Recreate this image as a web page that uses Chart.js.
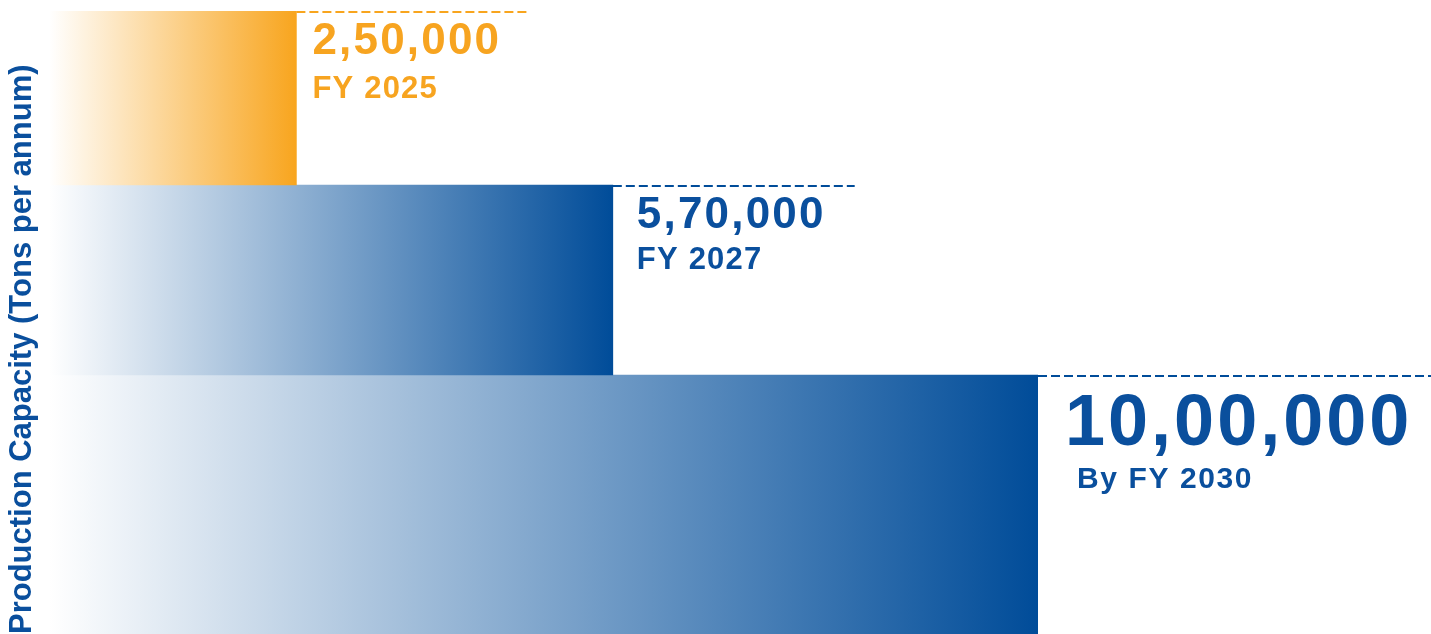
<!DOCTYPE html>
<html><head><meta charset="utf-8">
<script src="https://cdn.jsdelivr.net/npm/chart.js@4.4.1/dist/chart.umd.min.js"></script>
<style>html,body{margin:0;padding:0;background:#fff;overflow:hidden}#wrap{width:1431px;height:634px;position:relative}</style>
</head><body><div id="wrap"><canvas id="c" width="1431" height="634"></canvas></div>
<script>
// ---- data ----
const milestones = ['FY 2025', 'FY 2027', 'By FY 2030'];
const capacityTons = [250000, 570000, 1000000];
const axisTitle = 'Production Capacity (Tons per annum)';

// ---- style / layout ----
const barColors = ['#F8A51E', '#004C99', '#004C99'];
const barRGB = [[248,165,30],[0,76,153],[0,76,153]];
const textColors = ['#F7A420', '#0A4F9D', '#0A4F9D'];
const bandPx = [174, 190, 259];
const valueFont = [44, 44, 72];
const valueSpacing = [2.2, 2.2, 3];
const subFont = [31, 31, 30];
const subSpacing = [1.2, 1.2, 1.6];
const labelDx = [16, 24, 27];
const subDx = [16, 24, 39];
const valueTopDy = [11, 11, 18];
const subTopDy = [65, 62, 92];
const FONT = '"Liberation Sans", Arial, sans-serif';

function fmtIN(n) {
  const s = String(n);
  if (s.length <= 3) return s;
  const last3 = s.slice(-3);
  let rest = s.slice(0, -3);
  const parts = [];
  while (rest.length > 2) { parts.unshift(rest.slice(-2)); rest = rest.slice(0, -2); }
  if (rest) parts.unshift(rest);
  return parts.join(',') + ',' + last3;
}

const total = bandPx.reduce((a, b) => a + b, 0);
let cum = 0;
const centers = bandPx.map(b => { const c = total - (cum + b / 2); cum += b; return c; });

const datasets = milestones.map((m, i) => ({
  label: m,
  data: [{ x: capacityTons[i], y: centers[i] }],
  barThickness: bandPx[i],
  skipNull: true,
  borderWidth: 0,
  backgroundColor: (ctx) => {
    const chart = ctx.chart;
    if (!chart.chartArea || !chart.scales.x) return barColors[i];
    const xs = chart.scales.x;
    const x0 = xs.getPixelForValue(0), x1 = xs.getPixelForValue(capacityTons[i]);
    const g = chart.ctx.createLinearGradient(x0, 0, x1, 0);
    const [r, gg, b] = barRGB[i];
    g.addColorStop(0, 'rgb(255,255,255)');
    g.addColorStop(1, `rgb(${r},${gg},${b})`);
    return g;
  }
}));

const labelPlugin = {
  id: 'milestoneLabels',
  afterDatasetsDraw(chart) {
    const ctx = chart.ctx;
    chart.data.datasets.forEach((ds, i) => {
      const el = chart.getDatasetMeta(i).data[0];
      if (!el) return;
      const top = el.y - el.height / 2;
      const xEnd = el.x;
      ctx.save();
      ctx.fillStyle = textColors[i];
      ctx.textBaseline = 'alphabetic';
      ctx.textAlign = 'left';
      ctx.font = `bold ${valueFont[i]}px ${FONT}`;
      ctx.letterSpacing = valueSpacing[i] + 'px';
      const valTxt = fmtIN(capacityTons[i]);
      const w = ctx.measureText(valTxt).width;
      ctx.fillText(valTxt, xEnd + labelDx[i], top + valueTopDy[i] + valueFont[i] * 0.716);
      ctx.font = `bold ${subFont[i]}px ${FONT}`;
      ctx.letterSpacing = subSpacing[i] + 'px';
      ctx.fillText(milestones[i], xEnd + subDx[i], top + subTopDy[i] + subFont[i] * 0.716);
      ctx.letterSpacing = '0px';
      ctx.strokeStyle = barColors[i];
      ctx.lineWidth = 2;
      ctx.setLineDash([9, 4]);
      ctx.beginPath();
      ctx.moveTo(xEnd, top + 1);
      ctx.lineTo(Math.min(chart.width, xEnd + labelDx[i] + w + 29), top + 1);
      ctx.stroke();
      ctx.restore();
    });
  }
};

new Chart(document.getElementById('c'), {
  type: 'bar',
  data: { datasets },
  options: {
    indexAxis: 'y',
    responsive: false,
    animation: false,
    layout: { padding: { top: 11, right: 393, bottom: 0, left: 0 } },
    plugins: { legend: { display: false }, tooltip: { enabled: false } },
    scales: {
      x: { type: 'linear', display: false, min: 0, max: 1000000 },
      y: {
        type: 'linear', min: 0, max: total, position: 'left', offset: false,
        ticks: { display: false }, grid: { display: false, offset: false }, border: { display: false },
        title: {
          display: true, text: axisTitle, align: 'start', color: '#0A4F9D',
          font: { family: FONT, size: 31, weight: 'bold' },
          padding: { top: 4, bottom: 0 }
        }
      }
    }
  },
  plugins: [labelPlugin]
});
</script></body></html>
